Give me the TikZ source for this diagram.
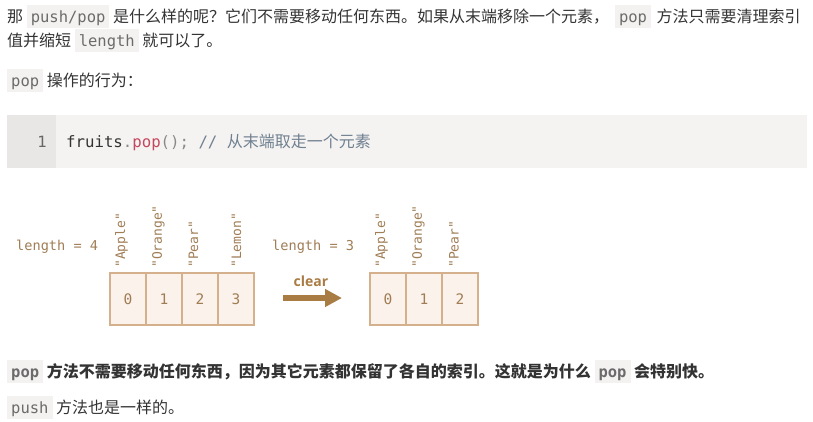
\documentclass[tikz,border=0pt]{standalone}
\usepackage{fontspec}
\setmainfont{Noto Sans CJK SC}
\newfontfamily\monof{DejaVu Sans Mono}
\newfontfamily\clearf{Open Sans}
\usetikzlibrary{arrows.meta}
\definecolor{bodyfg}{HTML}{333333}
\definecolor{spanbg}{HTML}{F4F2F0}
\definecolor{spanfg}{HTML}{6B6B6B}
\definecolor{codebg}{HTML}{F4F3F2}
\definecolor{gutterbg}{HTML}{E8E7E5}
\definecolor{codedark}{HTML}{333333}
\definecolor{codepunct}{HTML}{8A8A8A}
\definecolor{codered}{HTML}{C4475F}
\definecolor{codecomment}{HTML}{708090}
\definecolor{linenum}{HTML}{666666}
\definecolor{cellborder}{HTML}{D4B08C}
\definecolor{cellfill}{HTML}{FBF2EB}
\definecolor{browntext}{HTML}{A07D55}
\definecolor{arrowbrown}{HTML}{A97C44}
\newcommand\ic[1]{{\setlength{\fboxsep}{0pt}\colorbox{spanbg}{\rule[-5.5pt]{0pt}{23pt}\hspace{4pt}{\monof\fontsize{15.5}{18}\selectfont\color{spanfg}#1}\hspace{4pt}}}}
\newcommand\icb[1]{{\setlength{\fboxsep}{0pt}\colorbox{spanbg}{\rule[-5.5pt]{0pt}{23pt}\hspace{4pt}{\monof\bfseries\fontsize{15.5}{18}\selectfont\color{spanfg}#1}\hspace{4pt}}}}
\tikzset{
  bodytext/.style={anchor=base west, inner sep=0pt, text=bodyfg, font=\fontsize{16}{20}\selectfont},
  cell/.style={draw=cellborder, fill=cellfill, line width=2pt, minimum width=36pt, minimum height=52pt, inner sep=0pt, text=browntext, font=\monof\fontsize{14.5}{16}\selectfont},
  fruitlabel/.style={rotate=90, anchor=west, inner sep=0pt, text=browntext, font=\monof\fontsize{13}{15}\selectfont},
  lenlabel/.style={anchor=base west, inner sep=0pt, text=browntext, font=\monof\fontsize{13.6}{16}\selectfont},
  bigarrow/.style={draw=arrowbrown, line width=6pt, -{Triangle[length=17pt,width=17pt]}},
}
\begin{document}
\begin{tikzpicture}[x=1pt,y=-1pt]
\useasboundingbox (0,0) rectangle (813,422);
% paragraph
\node[bodytext] (l1) at (7,22.5) {那 \ic{push/pop} 是什么样的呢？它们不需要移动任何东西。如果从末端移除一个元素，\hspace{6pt}\ic{pop}\hspace{2pt} 方法只需要清理索引};
\node[bodytext] (l2) at (7,46.5) {值并缩短 \ic{length} 就可以了。};
\node[bodytext] (l3) at (7,86.5) {\ic{pop} 操作的行为：};
% code block
\fill[codebg] (7,115) rectangle (807,168);
\fill[gutterbg] (7,115) rectangle (56,168);
\node[anchor=base, inner sep=0pt, text=linenum, font=\monof\fontsize{15.5}{18}\selectfont] (ln) at (42,147.5) {1};
\node[anchor=base west, inner sep=0pt, font=\monof\fontsize{15.7}{18}\selectfont] (code) at (66,147.5)
  {\textcolor{codedark}{fruits}\textcolor{codepunct}{.}\textcolor{codered}{pop}\textcolor{codepunct}{();} \textcolor{codecomment}{// {\rmfamily\fontsize{16}{18}\selectfont 从末端取走一个元素}}};
% diagram left
\node[lenlabel] (len4) at (16,250) {length = 4};
\node[cell] (a0) at (128,299) {0};
\node[cell] (a1) at (164,299) {1};
\node[cell] (a2) at (200,299) {2};
\node[cell] (a3) at (236,299) {3};
\node[fruitlabel] (fa0) at (121.5,268) {"Apple"};
\node[fruitlabel] (fa1) at (158.5,268) {"Orange"};
\node[fruitlabel] (fa2) at (193.5,268) {"Pear"};
\node[fruitlabel] (fa3) at (236.5,268) {"Lemon"};
% arrow
\coordinate (arrS) at (283,298);
\coordinate (arrE) at (342,298);
\draw[bigarrow] (arrS) -- (arrE);
\node[anchor=base, inner sep=0pt, text=arrowbrown, font=\clearf\bfseries\fontsize{14}{16}\selectfont] (clear) at (311,286.7) {clear};
% diagram right
\node[lenlabel] (len3) at (272,250) {length = 3};
\node[cell] (b0) at (388,299) {0};
\node[cell] (b1) at (424,299) {1};
\node[cell] (b2) at (460,299) {2};
\node[fruitlabel] (fb0) at (381.5,268) {"Apple"};
\node[fruitlabel] (fb1) at (418.5,268) {"Orange"};
\node[fruitlabel] (fb2) at (454,268) {"Pear"};
% bottom paragraph
\node[bodytext, font=\bfseries\fontsize{16}{20}\selectfont] (l4) at (7,377) {\icb{pop} 方法不需要移动任何东西，因为其它元素都保留了各自的索引。这就是为什么 \icb{pop} 会特别快。};
\node[bodytext] (l5) at (7,413) {\ic{push} 方法也是一样的。};
\end{tikzpicture}
\end{document}
